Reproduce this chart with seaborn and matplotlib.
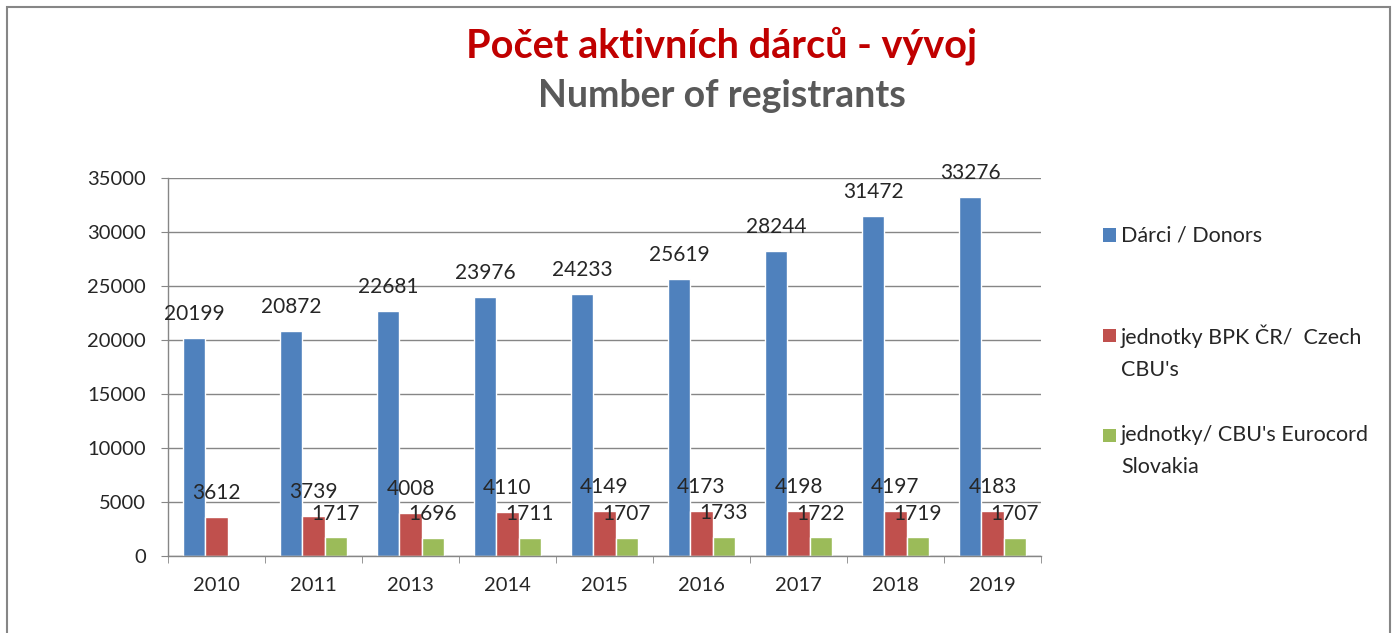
import numpy as np
import pandas as pd
import matplotlib
matplotlib.use("Agg")
import matplotlib.pyplot as plt
import seaborn as sns
from matplotlib.patches import Rectangle

# data
years = ['2010', '2011', '2013', '2014', '2015', '2016', '2017', '2018', '2019']
donors = [20199, 20872, 22681, 23976, 24233, 25619, 28244, 31472, 33276]
czech_cbu = [3612, 3739, 4008, 4110, 4149, 4173, 4198, 4197, 4183]
slovak_cbu = [np.nan, 1717, 1696, 1711, 1707, 1733, 1722, 1719, 1707]
series_names = ['Dárci / Donors', "jednotky BPK ČR/  Czech\nCBU's", "jednotky/ CBU's Eurocord\nSlovakia"]
colors = ['#4F81BD', '#C0504D', '#9BBB59']

sns.set_style('white')
plt.rcParams['font.family'] = ['Lato', 'DejaVu Sans']

rows = []
for name, vals in zip(series_names, [donors, czech_cbu, slovak_cbu]):
    for y, v in zip(years, vals):
        rows.append({'rok': y, 'pocet': v, 'serie': name})
df = pd.DataFrame(rows).dropna()

fig = plt.figure(figsize=(13.99, 6.33), dpi=100)
ax = fig.add_axes([168 / 1399, 1 - 556 / 633, 873 / 1399, 378 / 633])

sns.barplot(data=df, x='rok', y='pocet', hue='serie', order=years, hue_order=series_names,
            palette=colors, width=0.69, errorbar=None, saturation=1, ax=ax, zorder=2, legend=False)

# popisky hodnot nad sloupci
for cont in ax.containers:
    ax.bar_label(cont, labels=[f'{v:.0f}' for v in cont.datavalues], padding=10, fontsize=15, zorder=3)

ax.set_ylim(0, 35000)
ax.set_xlim(-0.5, len(years) - 0.5)
ax.set_yticks(range(0, 35001, 5000))
ax.set_xlabel('')
ax.set_ylabel('')
ax.yaxis.grid(True, color='#868686', linewidth=1)
ax.set_axisbelow(True)
for s in ['top', 'right']:
    ax.spines[s].set_visible(False)
for s in ['left', 'bottom']:
    ax.spines[s].set_color('#868686')
    ax.spines[s].set_linewidth(1)
ax.tick_params(axis='y', left=True, length=5, color='#868686', pad=11, labelsize=14.5)
ax.tick_params(axis='x', which='major', length=0, pad=15, labelsize=14.5)
ax.set_xticks(np.arange(-0.5, len(years), 1), minor=True)
ax.tick_params(axis='x', which='minor', bottom=True, length=5, color='#868686')

# legenda vpravo (znacka u prvniho radku)
legend_y = [235, 335, 435]
for name, col, yy in zip(series_names, colors, legend_y):
    fig.add_artist(Rectangle((1103 / 1399, 1 - (yy + 6.5) / 633), 13 / 1399, 13 / 633,
                             transform=fig.transFigure, facecolor=col, edgecolor='none'))
    fig.text(1121 / 1399, 1 - (yy - 10) / 633, name, fontsize=15.5, ha='left', va='top',
             linespacing=1.75)

fig.text(0.516, 1 - 46 / 633, 'Počet aktivních dárců - vývoj', color='#C00000', fontsize=28.5,
         fontweight='bold', ha='center', va='center')
fig.text(0.516, 1 - 96 / 633, 'Number of registrants', color='#595959', fontsize=27,
         fontweight='bold', ha='center', va='center')

fig.add_artist(Rectangle((7 / 1399, -0.05), 1383 / 1399, 1.05 - 7 / 633, transform=fig.transFigure,
                         fill=False, edgecolor='#868686', linewidth=1.5))

fig.savefig('out.png', dpi=100)
